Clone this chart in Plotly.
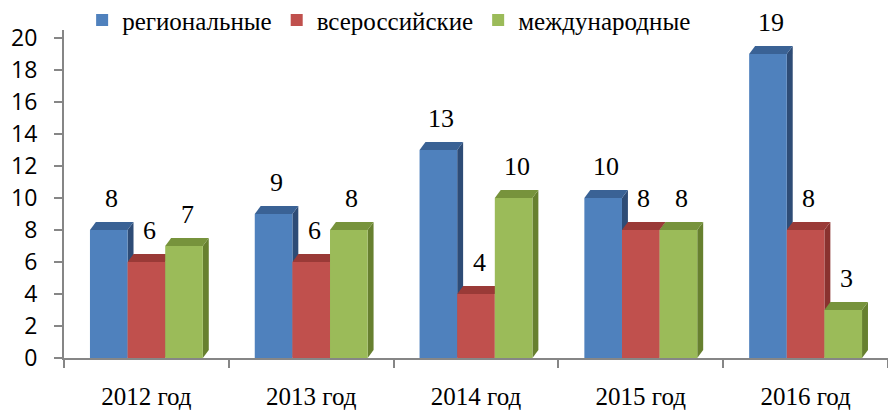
import plotly.graph_objects as go

categories = ["2012 год", "2013 год", "2014 год", "2015 год", "2016 год"]
series_names = ["региональные", "всероссийские", "международные"]
regional = [8, 9, 13, 10, 19]
all_russian = [6, 6, 4, 8, 8]
international = [7, 8, 10, 8, 3]
y_ticks = [0, 2, 4, 6, 8, 10, 12, 14, 16, 18, 20]

series_values = [regional, all_russian, international]
front_colors = ["#4F81BD", "#C0504D", "#9BBB59"]
top_colors = ["#3A6295", "#9A3A37", "#77933C"]
side_colors = ["#2E4C76", "#8A322F", "#67802F"]

BARGAP = 0.315
DX = 0.036   # depth in category units
DY = 0.5     # depth in value units

SERIF = "Liberation Serif, Times New Roman, serif"
SANS = "Open Sans, sans-serif"

fig = go.Figure()
for name, vals, col in zip(series_names, series_values, front_colors):
    fig.add_trace(go.Bar(
        x=categories, y=vals, name=name,
        marker=dict(color=col, line=dict(width=0)),
    ))

bw = (1 - BARGAP) / 3
shapes = []
annotations = []
for j, (vals, tc, sc) in enumerate(zip(series_values, top_colors, side_colors)):
    for i, v in enumerate(vals):
        c = i + (j - 1) * bw
        le, re = c - bw / 2, c + bw / 2
        shapes.append(dict(
            type="path", xref="x", yref="y", layer="between",
            path=f"M{re},0 L{re},{v} L{re+DX},{v+DY} L{re+DX},{DY} Z",
            fillcolor=sc, line=dict(width=0),
        ))
        shapes.append(dict(
            type="path", xref="x", yref="y", layer="between",
            path=f"M{le},{v} L{re},{v} L{re+DX},{v+DY} L{le+DX},{v+DY} Z",
            fillcolor=tc, line=dict(width=0),
        ))
        annotations.append(dict(
            x=c, y=v, xref="x", yref="y", text=str(v), showarrow=False,
            xshift=3, yshift=32, yanchor="middle",
            font=dict(family=SERIF, size=26, color="#000000"),
        ))

fig.update_layout(
    width=888, height=411,
    font=dict(family=SERIF, size=25, color="#000000"),
    margin=dict(l=64, r=0, t=30, b=53, autoexpand=False),
    paper_bgcolor="white", plot_bgcolor="white",
    barmode="group", bargap=BARGAP, bargroupgap=0,
    shapes=shapes, annotations=annotations,
    showlegend=True,
    legend=dict(
        orientation="h", x=0.022, xanchor="left", y=1.03, yanchor="middle",
        bgcolor="rgba(0,0,0,0)", font=dict(family=SERIF, size=25, color="#000000"),
        itemwidth=30, tracegroupgap=0,
    ),
    xaxis=dict(
        type="category", tickson="boundaries", ticks="outside", ticklen=8,
        tickcolor="#868686", tickwidth=2,
        showline=True, linecolor="#868686", linewidth=2,
        showgrid=False, ticklabelstandoff=15, automargin=False,
        tickfont=dict(family=SERIF, size=25, color="#000000"),
        range=[-0.5, 4.5],
    ),
    yaxis=dict(
        range=[0, 20.5], tickvals=y_ticks, ticks="outside", ticklen=8,
        tickcolor="#868686", tickwidth=2,
        showline=True, linecolor="#868686", linewidth=2,
        showgrid=False, zeroline=False, ticklabelstandoff=12, automargin=False,
        tickfont=dict(family=SANS, size=23, color="#000000"),
    ),
    yaxis2=dict(
        overlaying="y", range=[-0.5, 20], tickvals=y_ticks,
        showgrid=True, gridcolor="#8C8C8C", gridwidth=2,
        showticklabels=False, showline=False, zeroline=False, ticks="",
    ),
)

fig.write_html(
    "out.html",
    config={"displayModeBar": False},
    post_script="document.body.style.margin='0';document.body.style.overflow='hidden';",
)
